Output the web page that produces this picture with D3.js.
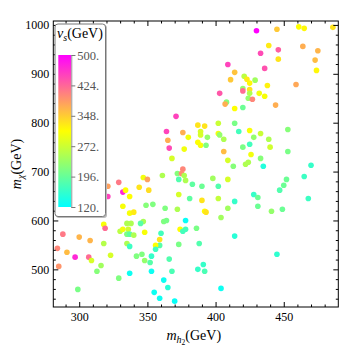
<!DOCTYPE html>
<html>
<head>
<meta charset="utf-8">
<script src="https://cdn.jsdelivr.net/npm/d3@7"></script>
<style>
    body { margin: 0; background: #fff; }
    svg text { font-family: "Liberation Serif", "DejaVu Serif", serif; }
</style>
</head>
<body>
<svg id="chart"></svg>
<script>

// m_h2 (GeV), m_chi (GeV), v_s (GeV) for every point
const mh2 = [430, 445, 461, 465, 486, 439, 446, 464, 475, 433, 446, 473, 409, 436, 474, 414, 421, 423, 411, 425,
    429, 438, 459, 420, 425, 420, 403, 425, 432, 436, 424, 427, 408, 407, 420, 414, 444, 371, 387, 392,
    402, 414, 364, 376, 389, 389, 402, 403, 417, 425, 453, 433, 380, 394, 428, 365, 406, 439, 387, 366,
    377, 389, 393, 420, 425, 440, 406, 453, 426, 368, 433, 409, 422, 424, 413, 435, 470, 376, 361, 372,
    375, 377, 373, 378, 347, 350, 329, 321, 321, 332, 334, 337, 344, 351, 383, 390, 398, 402, 409, 452,
    465, 450, 447, 428, 431, 468, 373, 381, 390, 402, 414, 431, 449, 441, 409, 332, 349, 354, 363, 372,
    392, 393, 337, 340, 404, 378, 362, 364, 347, 345, 318, 319, 335, 338, 330, 332, 336, 335, 337, 340,
    348, 374, 376, 378, 386, 360, 414, 288, 300, 308, 318, 335, 337, 359, 359, 356, 356, 373, 388, 445,
    284, 291, 297, 307, 309, 323, 342, 346, 348, 353, 352, 366, 285, 316, 313, 329, 337, 353, 368, 387,
    391, 392, 362, 365, 299, 355, 359, 370, 404];
const mchi = [988, 991, 996, 993, 995, 958, 949, 956, 947, 942, 930, 928, 919, 911, 907, 903, 895, 889, 888, 881,
    887, 876, 878, 870, 868, 865, 860, 860, 860, 854, 850, 848, 842, 838, 831, 829, 836, 813, 795, 793,
    799, 799, 782, 780, 782, 775, 778, 775, 782, 784, 786, 778, 770, 770, 770, 764, 766, 766, 760, 748,
    746, 754, 754, 750, 756, 750, 741, 741, 735, 727, 727, 723, 715, 719, 711, 711, 713, 705, 692, 696,
    696, 692, 684, 682, 688, 684, 678, 670, 649, 658, 662, 649, 668, 662, 674, 670, 686, 670, 684, 684,
    690, 672, 662, 653, 647, 645, 653, 645, 641, 645, 639, 629, 623, 619, 625, 629, 631, 633, 625, 623,
    619, 617, 615, 617, 606, 600, 598, 600, 598, 594, 592, 584, 594, 594, 578, 582, 582, 572, 572, 570,
    576, 582, 578, 582, 584, 574, 568, 572, 566, 559, 553, 553, 547, 561, 549, 549, 541, 551, 553, 531,
    543, 535, 525, 525, 518, 529, 527, 531, 518, 527, 514, 521, 506, 508, 496, 482, 492, 496, 496, 500,
    510, 496, 478, 463, 459, 453, 441, 435, 461];
const vs = [500, 350, 310, 315, 330, 325, 430, 370, 365, 445, 330, 360, 450, 440, 315, 355, 260, 325, 350, 315,
    240, 320, 375, 230, 330, 420, 435, 250, 300, 305, 230, 400, 220, 370, 200, 310, 370, 450, 330, 330,
    270, 210, 450, 370, 280, 280, 300, 230, 170, 305, 220, 270, 300, 230, 230, 370, 250, 250, 310, 445,
    300, 305, 215, 210, 170, 275, 360, 210, 300, 280, 220, 280, 250, 250, 220, 145, 160, 400, 250, 220,
    395, 250, 180, 250, 300, 380, 410, 380, 450, 470, 310, 310, 330, 335, 190, 200, 240, 180, 280, 200,
    165, 200, 180, 160, 200, 165, 280, 190, 330, 265, 160, 200, 200, 230, 240, 305, 220, 215, 215, 250,
    310, 330, 305, 325, 240, 125, 215, 210, 245, 185, 305, 420, 250, 250, 260, 300, 275, 215, 190, 250,
    305, 310, 170, 170, 210, 170, 150, 410, 365, 365, 255, 250, 165, 330, 185, 310, 165, 210, 180, 155,
    400, 360, 470, 420, 280, 280, 215, 215, 230, 160, 185, 180, 390, 240, 220, 215, 130, 130, 175, 160,
    160, 175, 130, 150, 210, 130, 130, 125, 130];

const xTicks = [300, 350, 400, 450];
const yTicks = [500, 600, 700, 800, 900, 1000];
const legendTicks = [120, 196, 272, 348, 424, 500];

class ScatterPlot {

    constructor(_config) {
        this.config = {
            parentElement: _config.parentElement,
            containerWidth: _config.containerWidth || 360,
            containerHeight: _config.containerHeight || 352
        };
        this.config.frame = {left: 53.3, right: 338.3, top: 21, bottom: 307};
        this.initVis();
    }

    initVis() {
        let vis = this;
        let f = vis.config.frame;
        vis.svg = d3.select(vis.config.parentElement)
            .attr('width', vis.config.containerWidth)
            .attr('height', vis.config.containerHeight);

        vis.xScale = d3.scaleLinear().domain([281, 490]).range([f.left, f.right]);
        vis.yScale = d3.scaleLinear().domain([423, 1008]).range([f.bottom, f.top]);
        vis.colorScale = d3.scaleLinear()
            .domain([120, 310, 500])
            .range(['#00ffff', '#ffff00', '#ff00ff']);

        vis.data = mh2.map((d, i) => ({x: d, y: mchi[i], v: vs[i]}));
        vis.render();
    }

    render() {
        let vis = this;
        let f = vis.config.frame;

        // points
        vis.svg.append('g')
            .selectAll('circle')
            .data(vis.data)
            .join('circle')
            .attr('cx', d => vis.xScale(d.x))
            .attr('cy', d => vis.yScale(d.y))
            .attr('r', 2.8)
            .attr('fill', d => vis.colorScale(d.v));

        vis.renderAxes();
        vis.renderColorLegend();

        // frame
        vis.svg.append('rect')
            .attr('x', f.left).attr('y', f.top)
            .attr('width', f.right - f.left).attr('height', f.bottom - f.top)
            .attr('fill', 'none').attr('stroke', '#000').attr('stroke-width', 1);
    }

    renderAxes() {
        let vis = this;
        let f = vis.config.frame;
        const xMinor = d3.range(290, 490, 10).filter(d => !xTicks.includes(d));
        const yMinor = d3.range(440, 1008, 20).filter(d => !yTicks.includes(d));

        const addAxis = (axis, transform) => {
            let g = vis.svg.append('g').attr('transform', transform).call(axis);
            g.select('.domain').remove();
            g.selectAll('line').attr('stroke', '#000');
            g.selectAll('text')
                .attr('font-family', '"Liberation Serif", serif')
                .attr('font-size', 12)
                .attr('fill', '#000');
            return g;
        };

        addAxis(d3.axisBottom(vis.xScale).tickValues(xTicks).tickSize(-5).tickPadding(5).tickFormat(d3.format('d')), `translate(0,${f.bottom})`);
        addAxis(d3.axisBottom(vis.xScale).tickValues(xMinor).tickSize(-2.5).tickFormat(''), `translate(0,${f.bottom})`);
        addAxis(d3.axisTop(vis.xScale).tickValues(xTicks).tickSize(-5).tickFormat(''), `translate(0,${f.top})`);
        addAxis(d3.axisTop(vis.xScale).tickValues(xMinor).tickSize(-2.5).tickFormat(''), `translate(0,${f.top})`);

        addAxis(d3.axisLeft(vis.yScale).tickValues(yTicks).tickSize(-5).tickPadding(4).tickFormat(d3.format('d')), `translate(${f.left},0)`);
        addAxis(d3.axisLeft(vis.yScale).tickValues(yMinor).tickSize(-2.5).tickFormat(''), `translate(${f.left},0)`);
        addAxis(d3.axisRight(vis.yScale).tickValues(yTicks).tickSize(-5).tickFormat(''), `translate(${f.right},0)`);
        addAxis(d3.axisRight(vis.yScale).tickValues(yMinor).tickSize(-2.5).tickFormat(''), `translate(${f.right},0)`);

        // x label: m_{h_2} (GeV)
        let xl = vis.svg.append('text')
            .attr('x', (f.left + f.right) / 2 - 2).attr('y', 340)
            .attr('text-anchor', 'middle')
            .attr('font-size', 14);
        xl.append('tspan').attr('font-style', 'italic').text('m');
        xl.append('tspan').attr('font-style', 'italic').attr('font-size', 10).attr('dy', 3).text('h');
        xl.append('tspan').attr('font-size', 7.5).attr('dy', 2).text('2');
        xl.append('tspan').attr('dy', -5).text('(GeV)');

        // y label: m_chi (GeV)
        let yl = vis.svg.append('text')
            .attr('transform', `translate(21,${(f.top + f.bottom) / 2}) rotate(-90)`)
            .attr('text-anchor', 'middle')
            .attr('font-size', 14);
        yl.append('tspan').attr('font-style', 'italic').text('m');
        yl.append('tspan').attr('font-style', 'italic').attr('font-size', 10).attr('dy', 3).text('χ');
        yl.append('tspan').attr('dy', -3).text('(GeV)');
    }

    renderColorLegend() {
        let vis = this;
        let lg = vis.svg.append('g');

        // box with a soft shadow
        lg.append('rect')
            .attr('x', 56).attr('y', 25).attr('width', 51).attr('height', 193)
            .attr('rx', 3).attr('fill', '#bbb');
        lg.append('rect')
            .attr('x', 55).attr('y', 24).attr('width', 50.5).attr('height', 192.5)
            .attr('rx', 3).attr('fill', '#fff').attr('stroke', '#777').attr('stroke-width', 1);

        // title v_s (GeV)
        let t = lg.append('text').attr('x', 57).attr('y', 38).attr('font-size', 14);
        t.append('tspan').attr('font-style', 'italic').text('v');
        t.append('tspan').attr('font-style', 'italic').attr('font-size', 10).attr('dy', 3).text('s');
        t.append('tspan').attr('dy', -3).text('(GeV)');

        let legendY = d3.scaleLinear().domain([120, 500]).range([207, 55]);

        let grad = vis.svg.append('defs').append('linearGradient')
            .attr('id', 'vsGrad')
            .attr('x1', 0).attr('y1', 1).attr('x2', 0).attr('y2', 0);
        grad.selectAll('stop')
            .data(d3.range(0, 1.0001, 0.05))
            .join('stop')
            .attr('offset', d => d)
            .attr('stop-color', d => vis.colorScale(120 + d * 380));

        lg.append('rect')
            .attr('x', 58.3).attr('y', legendY(500))
            .attr('width', 13).attr('height', legendY(120) - legendY(500))
            .attr('fill', 'url(#vsGrad)');

        let ax = lg.append('g')
            .attr('transform', 'translate(71.3,0)')
            .call(d3.axisRight(legendY).tickValues(legendTicks).tickSize(4).tickPadding(2).tickFormat(d => d + '.'));
        ax.select('.domain').attr('stroke', '#999');
        ax.selectAll('line').attr('stroke', '#777');
        ax.selectAll('text')
            .attr('font-family', '"Liberation Serif", serif')
            .attr('font-size', 12.5)
            .attr('fill', '#555');
    }
}

new ScatterPlot({parentElement: '#chart'});
</script>
</body>
</html>
